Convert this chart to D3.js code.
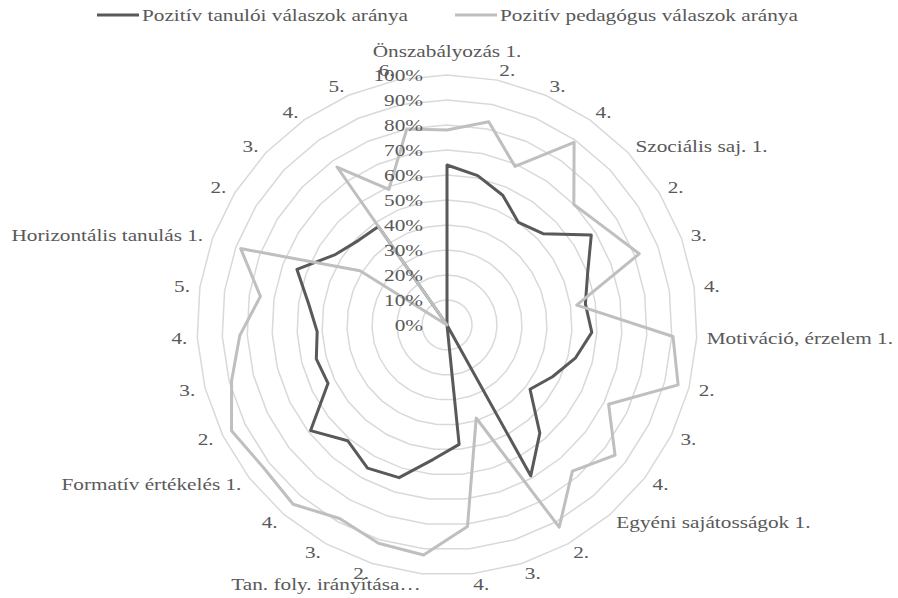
<!DOCTYPE html>
<html>
<head>
<meta charset="utf-8">
<script src="https://cdn.jsdelivr.net/npm/d3@7"></script>
<style>
  body { margin: 0; background: #fff; }
  svg { display: block; }
  text { font-family: "Liberation Serif", "Times New Roman", serif; fill: #595959; }
</style>
</head>
<body>
<svg width="898" height="598"></svg>
<script>
// categories, clockwise from the top
var categories = ['Önszabályozás 1.', '2.', '3.', '4.',
                  'Szociális saj. 1.', '2.', '3.', '4.',
                  'Motiváció, érzelem 1.', '2.', '3.', '4.',
                  'Egyéni sajátosságok 1.', '2.', '3.', '4.',
                  'Tan. foly. irányítása…', '2.', '3.', '4.',
                  'Formatív értékelés 1.', '2.', '3.', '4.', '5.',
                  'Horizontális tanulás 1.', '2.', '3.', '4.', '5.', '6.']

var tanuloi = [0.64, 0.61, 0.565, 0.50,
               0.53, 0.68, 0.60, 0.56,
               0.58, 0.53, 0.47, 0.42,
               0.57, 0.69, 0, 0.48,
               0.54, 0.64, 0.655, 0.61,
               0.69, 0.53, 0.54, 0.52, 0.56,
               0.64, 0.53, 0.49, 0.48, 0, 0]

var pedagogus = [0.78, 0.83, 0.69, 0.89,
                 0.70, 0.74, 0.82, 0.525,
                 0.905, 0.955, 0.72, 0.85,
                 0.77, 0.925, 0.39, 0.81,
                 0.925, 0.915, 0.885, 0.945,
                 0.93, 0.96, 0.89, 0.83, 0.755,
                 0.88, 0.41, 0, 0.77, 0.59, 0.80]

var ticks = [0, 0.1, 0.2, 0.3, 0.4, 0.5, 0.6, 0.7, 0.8, 0.9, 1]

var seriesNames = ['Pozitív tanulói válaszok aránya', 'Pozitív pedagógus válaszok aránya']
var seriesColors = ['#595959', '#bfbfbf']

var cx = 447, cy = 325, R = 250
var fontSize = 17, stretch = 1.25

var svg = d3.select('svg')

var r = d3.scaleLinear().domain([0, 1]).range([0, R])
var angle = d3.scaleLinear().domain([0, categories.length]).range([0, 2 * Math.PI])

var chart = svg.append('g').attr('transform', 'translate(' + cx + ',' + cy + ')')

// polygon grid rings
var ringLine = d3.lineRadial()
    .angle(function(d, i){ return angle(i) })
    .radius(function(d){ return r(d) })
    .curve(d3.curveLinearClosed)

chart.selectAll('path.ring')
    .data(ticks.slice(1))
    .join('path')
    .attr('class', 'ring')
    .attr('d', function(t){ return ringLine(categories.map(function(){ return t })) })
    .attr('fill', 'none')
    .attr('stroke', '#d9d9d9')
    .attr('stroke-width', 1.5)

// data lines (the darker series first, lighter one on top)
var dataLine = d3.lineRadial()
    .angle(function(d, i){ return angle(i) })
    .radius(function(d){ return r(d) })
    .curve(d3.curveLinearClosed)

chart.selectAll('path.series')
    .data([tanuloi, pedagogus])
    .join('path')
    .attr('class', 'series')
    .attr('d', dataLine)
    .attr('fill', 'none')
    .attr('stroke', function(d, i){ return seriesColors[i] })
    .attr('stroke-width', 3)
    .attr('stroke-linejoin', 'round')

// helper for stretched text
function label(parent, x, y, txt, anchor){
    var g = parent.append('g').attr('transform', 'translate(' + x + ',' + y + ')')
    g.append('text')
        .attr('transform', 'scale(' + stretch + ',1)')
        .attr('text-anchor', anchor)
        .style('font-size', fontSize + 'px')
        .text(txt)
    return g
}

// value axis labels
var fmt = d3.format('.0%')
ticks.forEach(function(t){
    label(chart, -24, -r(t) + fontSize * 0.35, fmt(t), 'end')
})

// category labels just outside the outer ring
categories.forEach(function(c, i){
    var a = angle(i)
    var s = Math.sin(a), co = Math.cos(a)
    var px = (R + 10) * s
    var py = -(R + 10) * co
    var anchor = 'middle'
    if (s > 0.05) anchor = 'start'
    else if (s < -0.05) anchor = 'end'
    var base = py + fontSize * 0.35
    if (anchor == 'middle') base = py - 8
    label(chart, px, base, c, anchor)
})

// legend
var legend = svg.append('g').attr('transform', 'translate(0,15)')
var lx = 97
seriesNames.forEach(function(name, i){
    legend.append('line')
        .attr('x1', lx).attr('x2', lx + 42)
        .attr('y1', 0).attr('y2', 0)
        .attr('stroke', seriesColors[i])
        .attr('stroke-width', 3)
    var g = label(legend, lx + 45, fontSize * 0.35, name, 'start')
    var w = g.select('text').node().getComputedTextLength() * stretch
    lx = lx + 45 + w + 47
})
</script>
</body>
</html>
